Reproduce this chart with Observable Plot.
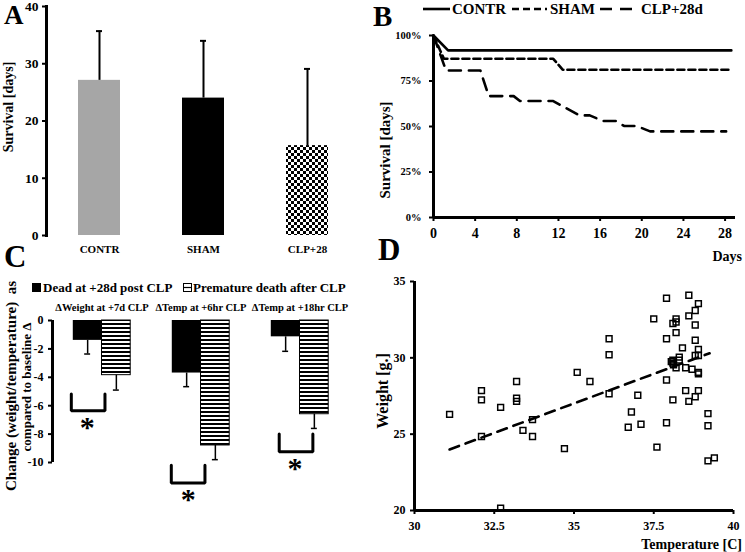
<!DOCTYPE html>
<html><head><meta charset="utf-8">
<script src="https://cdn.jsdelivr.net/npm/d3@7"></script>
<script src="https://cdn.jsdelivr.net/npm/@observablehq/plot@0.6"></script>
<style>
body{margin:0;background:#fff;}
#fig{position:relative;width:745px;height:552px;overflow:hidden;background:#fff;color:#000}
.panel{position:absolute}
#fig svg text{font-family:'Liberation Serif','Times New Roman',serif;font-weight:bold;}
#overlay{position:absolute;left:0;top:0;pointer-events:none}
</style></head><body><div id="fig"></div>
<script>
// ---------- Panel A: survival bars ----------
const groupsA = ["CONTR", "SHAM", "CLP+28"];
const survivalMean = [27.1, 24.0, 15.7];
const survivalSD = [8.6, 10.0, 13.4];
const ticksA = [0, 10, 20, 30, 40];

// ---------- Panel B: survival curves ----------
const contrDays = [0, 1.4, 28.6];
const contrSurv = [1, 0.918, 0.918];
const shamDays = [0, 1.0, 11.5, 12.4, 28.5];
const shamSurv = [1, 0.872, 0.872, 0.812, 0.812];
const clpDays = [0, 1.2, 4.5, 5.3, 7.7, 8.3, 11.5, 14.0, 15.0, 16.3, 17.5, 18.3, 19.5, 20.8, 28.1];
const clpSurv = [1, 0.808, 0.808, 0.667, 0.667, 0.64, 0.64, 0.561, 0.561, 0.53, 0.53, 0.503, 0.503, 0.473, 0.473];
const seriesB = ["CONTR", "SHAM", "CLP+28d"];
const ticksBx = [0, 4, 8, 12, 16, 20, 24, 28];
const ticksBy = [0, 0.25, 0.5, 0.75, 1];

// ---------- Panel C: change vs baseline ----------
const groupsC = ["ΔWeight at +7d CLP", "ΔTemp at +6hr CLP", "ΔTemp at +18hr CLP"];
const seriesC = ["Dead at +28d post CLP", "Premature death after CLP"];
const deadMean = [-1.4, -3.7, -1.15];
const deadErr = [0.96, 0.96, 1.02];
const prematureMean = [-3.85, -8.8, -6.6];
const prematureErr = [1.05, 1.0, 1.0];
const ticksC = [0, -2, -4, -6, -8, -10];
const bracketTop = [-5.17, -10.2, -8.0];
const bracketBottom = [-6.35, -11.45, -9.25];

// ---------- Panel D: weight vs temperature ----------
const temperature = [31.1, 32.1, 32.1, 32.1, 32.7, 32.7, 33.2, 33.2, 33.2, 33.4,
  33.7, 33.7, 34.7, 35.1, 35.5, 36.1, 36.1, 36.1, 36.7, 36.8,
  37.0, 37.1, 37.5, 37.6, 37.9, 37.9, 37.9, 37.9, 38.1, 38.1,
  38.2, 38.2, 38.2, 38.1, 38.1, 38.2, 38.3, 38.3, 38.4, 38.5,
  38.5, 38.6, 38.6, 38.6, 38.7, 38.8, 38.8, 38.8, 38.8, 38.8,
  38.9, 38.9, 38.9, 38.9, 38.9, 38.9, 39.2, 39.2, 39.2, 39.4, 38.05, 38.12];
const weight = [26.3, 27.85, 27.25, 24.85, 26.75, 20.15, 28.45, 27.35, 27.15, 25.25,
  25.95, 24.85, 24.05, 29.05, 28.45, 31.25, 30.2, 27.65, 25.45, 26.45,
  27.55, 25.65, 32.55, 24.15, 33.9, 31.25, 28.55, 25.75, 27.25, 32.25,
  32.55, 32.35, 31.65, 29.85, 29.65, 29.35, 30.05, 29.85, 30.65, 29.35,
  27.85, 34.1, 32.75, 27.15, 29.25, 33.1, 32.15, 31.15, 30.15, 27.45,
  33.55, 30.55, 30.15, 29.05, 28.95, 27.85, 26.35, 25.55, 23.25, 23.45, 29.75, 29.55];
const trendTemp = [31.1, 39.25];
const trendWeight = [24.0, 30.3];
const ticksDx = [30, 32.5, 35, 37.5, 40];
const ticksDy = [20, 25, 30, 35];

// ---------- helpers ----------
const fig = document.getElementById("fig");
const baseStyle = "font-family:'Liberation Serif','Times New Roman',serif;font-weight:bold;font-size:12px;color:#000;background:transparent;overflow:visible;";
function addDefs(svg, html) {
  const defs = document.createElementNS("http://www.w3.org/2000/svg", "defs");
  defs.innerHTML = html;
  svg.insertBefore(defs, svg.firstChild);
}
function place(el, left, top) {
  const d = document.createElement("div");
  d.className = "panel";
  d.style.left = left + "px"; d.style.top = top + "px";
  d.appendChild(el); fig.appendChild(d);
}
const checkerDef = `<pattern id="checker" width="6" height="6" patternUnits="userSpaceOnUse"><rect width="6" height="6" fill="#fff"/><rect width="3" height="3" fill="#000"/><rect x="3" y="3" width="3" height="3" fill="#000"/></pattern>`;
const stripeDef = `<pattern id="stripes" width="4" height="4" patternUnits="userSpaceOnUse"><rect width="4" height="4" fill="#fff"/><rect width="4" height="2" fill="#000"/></pattern>`;

// ---------- Panel A ----------
const dataA = groupsA.map((g, i) => ({g, mean: survivalMean[i], sd: survivalSD[i]}));
const plotA = Plot.plot({
  width: 370, height: 260, marginLeft: 46, marginRight: 11, marginTop: 6, marginBottom: 25,
  style: baseStyle,
  x: {type: "band", domain: groupsA, paddingInner: 0.6, paddingOuter: 0.3},
  y: {domain: [0, 40]},
  color: {domain: groupsA, range: ["#a6a6a6", "#000000", "url(#checker)"]},
  marks: [
    Plot.barY(dataA, {x: "g", y: "mean", fill: "g"}),
    Plot.ruleX(dataA, {x: "g", y1: "mean", y2: d => d.mean + d.sd, strokeWidth: 2}),
    Plot.tickY(dataA, {x: "g", y: d => d.mean + d.sd, strokeWidth: 2, insetLeft: 18, insetRight: 18}),
    Plot.axisY({ticks: ticksA, tickSize: 4, tickPadding: 4, label: null, fontSize: 13.5, strokeWidth: 2}),
    Plot.axisX({tickSize: 0, tickPadding: 10, label: null, fontSize: 11}),
    Plot.frame({anchor: "left", strokeWidth: 3})
  ]
});
addDefs(plotA, checkerDef);
place(plotA, 0, 0);

// ---------- Panel B ----------
const kmData = [
  ...contrDays.map((d, i) => ({series: seriesB[0], day: d, surv: contrSurv[i]})),
  ...shamDays.map((d, i) => ({series: seriesB[1], day: d, surv: shamSurv[i]})),
  ...clpDays.map((d, i) => ({series: seriesB[2], day: d, surv: clpSurv[i]}))
];
const dashes = {"CONTR": null, "SHAM": "7,4", "CLP+28d": "12,8"};
const plotB = Plot.plot({
  width: 375, height: 260, marginLeft: 63, marginRight: 10, marginTop: 35, marginBottom: 43,
  style: baseStyle,
  x: {domain: [0, 29]},
  y: {domain: [0, 1]},
  marks: [
    ...seriesB.map(s => Plot.line(kmData.filter(d => d.series === s), {x: "day", y: "surv", strokeWidth: 2.6, strokeDasharray: dashes[s]})),
    Plot.axisX({ticks: ticksBx, tickSize: 4, tickPadding: 7, label: null, fontSize: 14, strokeWidth: 2}),
    Plot.axisY({ticks: ticksBy, tickFormat: d3.format(".0%"), tickSize: 4, tickPadding: 8, label: null, fontSize: 10.5, strokeWidth: 2}),
    Plot.ruleX([0], {strokeWidth: 3}),
    Plot.ruleY([0], {strokeWidth: 3})
  ]
});
place(plotB, 370, 0);

// ---------- Panel C ----------
const deadData = groupsC.map((g, i) => ({g, gi: i + 1, mean: deadMean[i], err: deadErr[i]}));
const premData = groupsC.map((g, i) => ({g, gi: i + 1, mean: prematureMean[i], err: prematureErr[i]}));
const halfW = 0.29;           // bar width in group units
const bracketSpan = [[-0.31, 0.03], [-0.30, 0.04], [-0.21, 0.13]];
const starPos = [[-0.15, -7.1], [-0.13, -12.2], [-0.05, -10.0]];
const bracketPts = [];
groupsC.forEach((g, i) => {
  const L = i + 1 + bracketSpan[i][0], R = i + 1 + bracketSpan[i][1];
  bracketPts.push({b: i, x: L, y: bracketTop[i]}, {b: i, x: L, y: bracketBottom[i]},
                  {b: i, x: R, y: bracketBottom[i]}, {b: i, x: R, y: bracketTop[i]});
});
const stars = groupsC.map((g, i) => ({x: i + 1 + starPos[i][0], y: starPos[i][1]}));
const plotC = Plot.plot({
  width: 370, height: 297, marginLeft: 52, marginRight: 21, marginTop: 65, marginBottom: 90,
  style: baseStyle,
  x: {domain: [0.5, 3.5], axis: null},
  y: {domain: [-10, 0]},
  marks: [
    Plot.rect(deadData, {x1: d => d.gi - halfW, x2: "gi", y1: 0, y2: "mean", fill: "#000"}),
    Plot.rect(premData, {x1: "gi", x2: d => d.gi + halfW, y1: 0, y2: "mean", fill: "url(#stripes)", stroke: "#000", strokeWidth: 1}),
    Plot.ruleX(deadData, {x: d => d.gi - halfW / 2, y1: "mean", y2: d => d.mean - d.err, strokeWidth: 1.5}),
    Plot.ruleY(deadData, {y: d => d.mean - d.err, x1: d => d.gi - halfW / 2 - 0.03, x2: d => d.gi - halfW / 2 + 0.03, strokeWidth: 1.5}),
    Plot.ruleX(premData, {x: d => d.gi + halfW / 2, y1: "mean", y2: d => d.mean - d.err, strokeWidth: 1.5}),
    Plot.ruleY(premData, {y: d => d.mean - d.err, x1: d => d.gi + halfW / 2 - 0.03, x2: d => d.gi + halfW / 2 + 0.03, strokeWidth: 1.5}),
    Plot.line(bracketPts, {x: "x", y: "y", z: "b", strokeWidth: 3, strokeLinejoin: "miter"}),
    Plot.text(stars, {x: "x", y: "y", text: () => "*", fontSize: 30, dy: 6}),
    Plot.text(groupsC, {x: (d, i) => i + 1, y: 0, dy: -13, text: d => d, fontSize: 10.5}),
    Plot.axisY({ticks: ticksC, tickFormat: d => String(d), tickSize: 4, tickPadding: 5, label: null, fontSize: 12, strokeWidth: 2}),
    Plot.ruleX([0.5], {y1: -10, y2: 0, strokeWidth: 3})
  ]
});
addDefs(plotC, stripeDef);
place(plotC, 0, 255);

// ---------- Panel D ----------
const pointsD = temperature.map((t, i) => ({t, w: weight[i]}));
const trend = trendTemp.map((t, i) => ({t, w: trendWeight[i]}));
const plotD = Plot.plot({
  width: 375, height: 297, marginLeft: 44, marginRight: 12, marginTop: 26, marginBottom: 42,
  style: baseStyle,
  x: {domain: [30, 40]},
  y: {domain: [20, 35]},
  marks: [
    Plot.line(trend, {x: "t", y: "w", strokeWidth: 2.6, strokeDasharray: "10,7"}),
    Plot.dot(pointsD, {x: "t", y: "w", symbol: "square", r: 3.3, stroke: "#000", fill: "none", strokeWidth: 1.5}),
    Plot.axisX({ticks: ticksDx, tickFormat: d => String(d), tickSize: 4, tickPadding: 7, label: null, fontSize: 12, strokeWidth: 2}),
    Plot.axisY({ticks: ticksDy, tickSize: 4, tickPadding: 5, label: null, fontSize: 12, strokeWidth: 2}),
    Plot.ruleX([30], {strokeWidth: 3}),
    Plot.ruleY([20], {strokeWidth: 3})
  ]
});
place(plotD, 370, 255);

// ---------- overlay texts ----------
const rot = (x, y, size, txt) => `<text transform="translate(${x},${y}) rotate(-90)" text-anchor="middle" dominant-baseline="central" font-size="${size}" style="white-space:pre">${txt}</text>`;
const overlay = `
<svg id="overlay" width="745" height="552" xmlns="http://www.w3.org/2000/svg">
<g fill="#000">
<text x="4" y="24" font-size="27">A</text>
<text x="373" y="26" font-size="29">B</text>
<text x="4" y="267" font-size="31">C</text>
<text x="378" y="260" font-size="31">D</text>
${rot(8, 107, 14, "Survival [days]")}
${rot(385, 150, 15, "Survival [days]")}
${rot(11, 386, 15, "Change (weight/temperature)  as")}
${rot(26, 387, 13, "compared to baseline Δ")}
${rot(382, 391, 16, "Weight [g.]")}
<text x="742" y="261" font-size="14" text-anchor="end">Days</text>
<text x="742" y="549" font-size="14" text-anchor="end">Temperature [C]</text>
<line x1="423" y1="9" x2="450" y2="9" stroke="#000" stroke-width="2.6"/>
<text x="452" y="14" font-size="15">${seriesB[0]}</text>
<line x1="512" y1="9" x2="547" y2="9" stroke="#000" stroke-width="2.6" stroke-dasharray="7,4"/>
<text x="550" y="14" font-size="15">${seriesB[1]}</text>
<line x1="600" y1="9" x2="637" y2="9" stroke="#000" stroke-width="2.6" stroke-dasharray="12,8"/>
<text x="641" y="14" font-size="15">${seriesB[2]}</text>
<rect x="32" y="283" width="9" height="9" fill="#000"/>
<text x="43" y="292" font-size="13">${seriesC[0]}</text>
<rect x="183.5" y="283.5" width="8" height="8" fill="#fff" stroke="#000" stroke-width="1"/>
<line x1="183.5" y1="287.5" x2="191.5" y2="287.5" stroke="#000" stroke-width="1.2"/>
<text x="193" y="292" font-size="13">${seriesC[1]}</text>
</g></svg>`;
fig.insertAdjacentHTML("beforeend", overlay);
</script></body></html>
